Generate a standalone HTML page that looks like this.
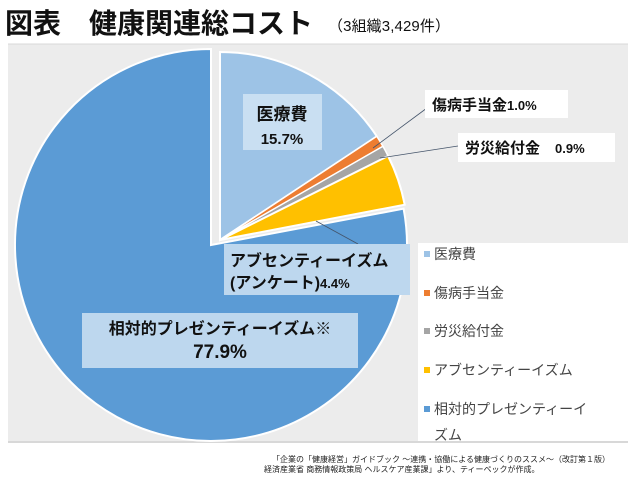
<!DOCTYPE html>
<html><head><meta charset="utf-8"><style>
body{margin:0;width:640px;height:496px;background:#fff;overflow:hidden;font-family:"Liberation Sans","Noto Sans CJK JP",sans-serif;}
</style></head><body>
<svg width="640" height="496" xmlns="http://www.w3.org/2000/svg" style="position:absolute;left:0;top:0;font-family:'Liberation Sans','Noto Sans CJK JP',sans-serif">
<text x="5" y="33" font-size="28" font-weight="bold" fill="#111">図表　健康関連総コスト</text>
<text x="328" y="31" font-size="15" fill="#111" textLength="122">（3組織3,429件）</text>
<rect x="8" y="44" width="620" height="398" fill="#ececec"/>
<line x1="8" y1="44" x2="628" y2="44" stroke="#d8d8d8"/>
<line x1="8" y1="442" x2="628" y2="442" stroke="#d8d8d8" stroke-width="2"/>
<path d="M211,245 L403.6,208.7 A196,196 0 1 1 211,49 Z" fill="#5b9bd5" stroke="#fff" stroke-width="2"/>
<path d="M220,240 L220,52 A188,188 0 0 1 376.8,136.3 Z" fill="#9dc3e6" stroke="#fff" stroke-width="2"/>
<path d="M220,240 L376.8,136.3 A188,188 0 0 1 382.9,146.3 Z" fill="#ed7d31" stroke="#fff" stroke-width="1.5"/>
<path d="M220,240 L382.9,146.3 A188,188 0 0 1 388.1,156.0 Z" fill="#a5a5a5" stroke="#fff" stroke-width="1.5"/>
<path d="M220,240 L388.1,156.0 A188,188 0 0 1 404.7,204.7 Z" fill="#ffc000" stroke="#fff" stroke-width="2"/>
<line x1="373" y1="148" x2="427" y2="108" stroke="#44546a" stroke-width="0.8"/>
<line x1="380" y1="158" x2="458" y2="146" stroke="#44546a" stroke-width="0.8"/>
<line x1="316" y1="221" x2="358" y2="244" stroke="#44546a" stroke-width="0.8"/>
<rect x="243" y="94" width="79" height="56" fill="#c9dff2"/>
<text x="282" y="120" font-size="17" font-weight="bold" text-anchor="middle" fill="#111">医療費</text>
<text x="282" y="144" font-size="15" font-weight="bold" text-anchor="middle" fill="#111">15.7%</text>
<rect x="425" y="90" width="143" height="28" fill="#fff"/>
<text x="432" y="110" font-size="15" font-weight="bold" fill="#111">傷病手当金<tspan font-size="13">1.0%</tspan></text>
<rect x="458" y="133" width="157" height="29" fill="#fff"/>
<text x="465" y="153" font-size="15" font-weight="bold" fill="#111">労災給付金　<tspan font-size="13">0.9%</tspan></text>
<rect x="224" y="244" width="186" height="51" fill="#bdd7ee"/>
<text x="230" y="266" font-size="16" font-weight="bold" fill="#111">アブセンティーイズム</text>
<text x="230" y="288" font-size="16" font-weight="bold" fill="#111">(アンケート)<tspan font-size="13">4.4%</tspan></text>
<rect x="82" y="313" width="276" height="55" fill="#bdd7ee"/>
<text x="220" y="334" font-size="16" font-weight="bold" text-anchor="middle" fill="#111">相対的プレゼンティーイズム※</text>
<text x="220" y="358" font-size="19" font-weight="bold" text-anchor="middle" fill="#111">77.9%</text>
<rect x="418" y="243" width="210" height="198" fill="#fff"/>
<g font-size="14" fill="#444">
<rect x="424" y="251" width="6" height="6" fill="#9dc3e6"/><text x="434" y="259">医療費</text>
<rect x="424" y="290" width="6" height="6" fill="#ed7d31"/><text x="434" y="298">傷病手当金</text>
<rect x="424" y="328" width="6" height="6" fill="#a5a5a5"/><text x="434" y="336">労災給付金</text>
<rect x="424" y="367" width="6" height="6" fill="#ffc000"/><text x="434" y="375">アブセンティーイズム</text>
<rect x="424" y="406" width="6" height="6" fill="#5b9bd5"/><text x="434" y="414">相対的プレゼンティーイ</text>
<text x="434" y="440">ズム</text>
</g>
<g font-size="8" fill="#222">
<text x="272" y="462">「企業の「健康経営」ガイドブック ～連携・協働による健康づくりのススメ～（改訂第１版）</text>
<text x="264" y="472">経済産業省 商務情報政策局 ヘルスケア産業課」より、ティーペックが作成。</text>
</g>
</svg>
</body></html>
